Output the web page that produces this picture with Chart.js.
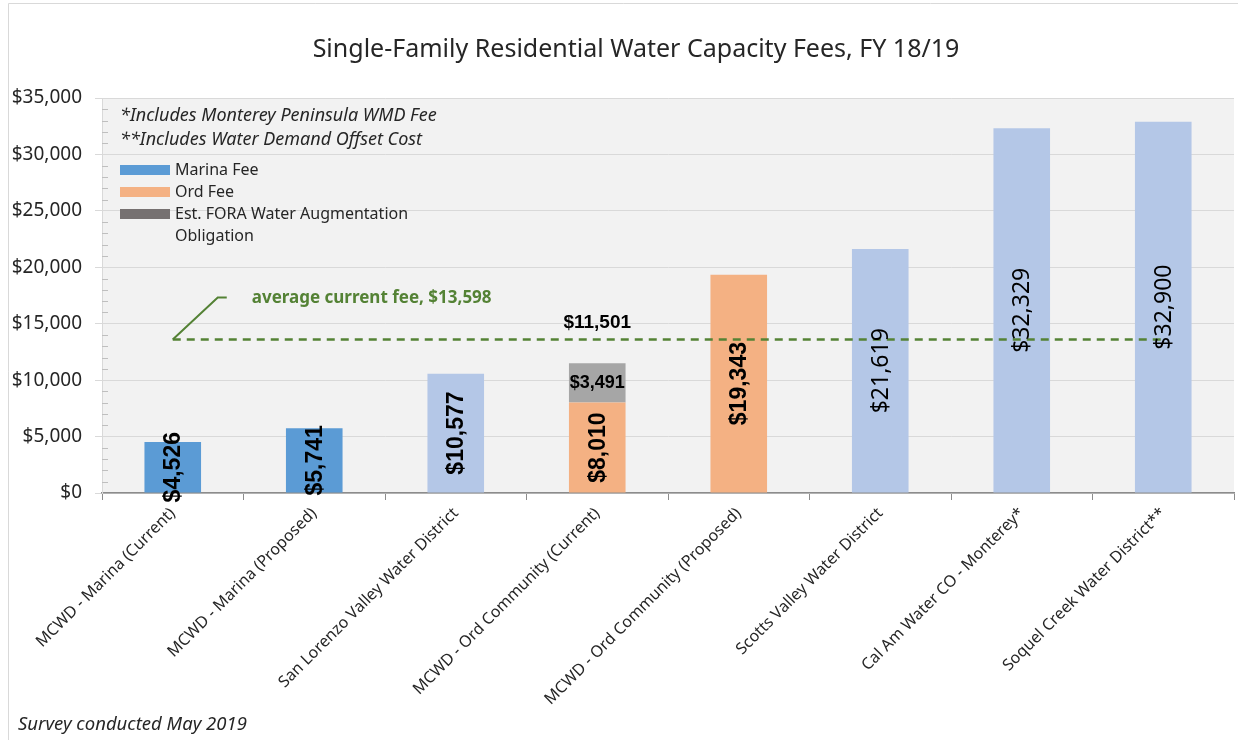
<!DOCTYPE html>
<html>
<head>
<meta charset="utf-8">
<title>Single-Family Residential Water Capacity Fees, FY 18/19</title>
<script src="https://cdn.jsdelivr.net/npm/chart.js@4.4.1/dist/chart.umd.min.js"></script>
<style>
  html, body { margin: 0; padding: 0; background: #fff; }
  #wrap { position: relative; width: 1238px; height: 740px; }
</style>
</head>
<body>
<div id="wrap"><canvas id="feeChart" width="1238" height="740"></canvas></div>
<script>
// Chart data
const categories = [
    'MCWD - Marina (Current)',
    'MCWD - Marina (Proposed)',
    'San Lorenzo Valley Water District',
    'MCWD - Ord Community (Current)',
    'MCWD - Ord Community (Proposed)',
    'Scotts Valley Water District',
    'Cal Am Water CO - Monterey*',
    'Soquel Creek Water District**'
];
const marinaFee      = [4526, 5741, null, null, null, null, null, null];
const ordFee         = [null, null, null, 8010, 19343, null, null, null];
const foraObligation = [null, null, null, 3491, null, null, null, null];
const otherDistricts = [null, null, 10577, null, null, 21619, 32329, 32900];
const averageFee     = [13598, 13598, 13598, 13598, 13598, 13598, 13598, 13598];

const seriesNames = ['Marina Fee', 'Ord Fee', 'Est. FORA Water Augmentation', 'Other Districts'];
const legendLines = [['Marina Fee'], ['Ord Fee'], ['Est. FORA Water Augmentation', 'Obligation']];
const notes = ['*Includes Monterey Peninsula WMD Fee', '**Includes Water Demand Offset Cost'];
const averageLabel = 'average current fee, $13,598';
const chartTitle = 'Single-Family Residential Water Capacity Fees, FY 18/19';
const footnote = 'Survey conducted May 2019';
const yMax = 35000;
const yStep = 5000;
const yMinorStep = 1000;

const COLORS = {
    marina: '#5b9bd5',
    ord: '#f4b183',
    fora: '#a6a6a6',
    foraLegend: '#767171',
    other: '#b4c7e7',
    avg: '#548235',
    plotBg: '#f2f2f2',
    grid: '#d9d9d9',
    axis: '#8c8c8c',
    text: '#262626'
};
const FONT = "'Noto Sans', 'Open Sans', sans-serif";

function money(v) {
    return '$' + Number(v).toLocaleString('en-US');
}

// backgrounds, border, title, notes, legend, footnote
const decorPlugin = {
    id: 'decor',
    beforeDraw(chart) {
        const { ctx, chartArea: a, width, height } = chart;
        ctx.save();
        ctx.fillStyle = '#ffffff';
        ctx.fillRect(0, 0, width, height);
        ctx.strokeStyle = '#d9d9d9';
        ctx.lineWidth = 1;
        ctx.beginPath();
        ctx.moveTo(8.5, height);
        ctx.lineTo(8.5, 3.5);
        ctx.lineTo(width, 3.5);
        ctx.stroke();
        ctx.fillStyle = COLORS.plotBg;
        ctx.fillRect(a.left, a.top, a.right - a.left, a.bottom - a.top);
        ctx.restore();
    },
    afterDraw(chart) {
        const { ctx, chartArea: a, width, height } = chart;
        const y = chart.scales.y;
        ctx.save();

        // minor ticks inside the y axis
        ctx.strokeStyle = '#bfbfbf';
        ctx.lineWidth = 1;
        for (let v = yMinorStep; v < yMax; v += yMinorStep) {
            if (v % yStep === 0) continue;
            const py = Math.round(y.getPixelForValue(v)) + 0.5;
            ctx.beginPath();
            ctx.moveTo(a.left, py);
            ctx.lineTo(a.left + 6, py);
            ctx.stroke();
        }

        // title
        ctx.fillStyle = COLORS.text;
        ctx.font = `25px ${FONT}`;
        ctx.textAlign = 'center';
        ctx.textBaseline = 'middle';
        ctx.fillText(chartTitle, 636, 50);

        // notes
        ctx.textAlign = 'left';
        ctx.font = `italic 18px ${FONT}`;
        notes.forEach((n, i) => ctx.fillText(n, a.left + 18, a.top + 18 + i * 24));

        // legend
        const swatches = [COLORS.marina, COLORS.ord, COLORS.foraLegend];
        ctx.font = `16px ${FONT}`;
        let ly = a.top + 72;
        legendLines.forEach((lines, i) => {
            ctx.fillStyle = swatches[i];
            ctx.fillRect(a.left + 18, ly - 5, 50, 10);
            ctx.fillStyle = COLORS.text;
            lines.forEach((t, j) => ctx.fillText(t, a.left + 73, ly + j * 22));
            ly += 22;
        });

        // footnote
        ctx.font = `italic 18.5px ${FONT}`;
        ctx.fillText(footnote, 18, height - 15);
        ctx.restore();
    }
};

// value labels and the average annotation
const labelPlugin = {
    id: 'valueLabels',
    afterDatasetsDraw(chart) {
        const ctx = chart.ctx;
        const barSets = [1, 2, 3, 4];
        ctx.save();
        ctx.fillStyle = '#000';
        ctx.textBaseline = 'middle';

        categories.forEach((cat, i) => {
            const segs = [];
            barSets.forEach(d => {
                const v = chart.data.datasets[d].data[i];
                if (v != null) segs.push({ v, el: chart.getDatasetMeta(d).data[i] });
            });
            const bold = i < 5;
            const vertFont = bold ? `bold 23px 'Liberation Sans', Arial, sans-serif` : `23px ${FONT}`;
            segs.forEach((s, k) => {
                const cx = s.el.x;
                const cy = (s.el.y + s.el.base) / 2;
                if (k === 0) {
                    ctx.save();
                    ctx.translate(cx, cy);
                    ctx.rotate(-Math.PI / 2);
                    ctx.font = vertFont;
                    ctx.textAlign = 'center';
                    ctx.fillText(money(s.v), 0, 1);
                    ctx.restore();
                } else {
                    ctx.font = `bold 18px 'Liberation Sans', Arial, sans-serif`;
                    ctx.textAlign = 'center';
                    ctx.fillText(money(s.v), cx, cy);
                }
            });
            if (segs.length > 1) {
                const top = segs[segs.length - 1].el;
                const total = segs.reduce((t, s) => t + s.v, 0);
                ctx.font = `bold 19px 'Liberation Sans', Arial, sans-serif`;
                ctx.textAlign = 'center';
                ctx.fillText(money(total), top.x, top.y - 40);
            }
        });

        // average annotation with leader line
        const p0 = chart.getDatasetMeta(0).data[0];
        ctx.strokeStyle = COLORS.avg;
        ctx.lineWidth = 2;
        ctx.beginPath();
        ctx.moveTo(p0.x, p0.y);
        ctx.lineTo(p0.x + 45, p0.y - 42);
        ctx.lineTo(p0.x + 54, p0.y - 42);
        ctx.stroke();
        ctx.fillStyle = COLORS.avg;
        ctx.font = `bold 17px ${FONT}`;
        ctx.textAlign = 'left';
        ctx.fillText(averageLabel, p0.x + 79, p0.y - 41);
        ctx.restore();
    }
};

const barCommon = { barPercentage: 0.4, categoryPercentage: 1, borderWidth: 0 };

new Chart(document.getElementById('feeChart'), {
    type: 'bar',
    data: {
        labels: categories,
        datasets: [
            {
                type: 'line',
                label: 'Average current fee',
                data: averageFee,
                borderColor: COLORS.avg,
                borderWidth: 2.5,
                borderDash: [8, 6],
                pointRadius: 0,
                fill: false
            },
            { label: seriesNames[0], data: marinaFee, backgroundColor: COLORS.marina, ...barCommon },
            { label: seriesNames[1], data: ordFee, backgroundColor: COLORS.ord, ...barCommon },
            { label: seriesNames[2], data: foraObligation, backgroundColor: COLORS.fora, ...barCommon },
            { label: seriesNames[3], data: otherDistricts, backgroundColor: COLORS.other, ...barCommon }
        ]
    },
    options: {
        responsive: false,
        animation: false,
        devicePixelRatio: 1,
        layout: { padding: { top: 98, left: 0, right: 4, bottom: 0 } },
        plugins: {
            legend: { display: false },
            title: { display: false },
            tooltip: { enabled: false }
        },
        scales: {
            x: {
                stacked: true,
                grid: {
                    offset: true,
                    drawOnChartArea: false,
                    drawTicks: true,
                    tickLength: 7,
                    color: COLORS.axis
                },
                border: { color: COLORS.axis, width: 1.5 },
                ticks: {
                    autoSkip: false,
                    minRotation: 45,
                    maxRotation: 45,
                    padding: 4,
                    color: COLORS.text,
                    font: { family: FONT, size: 16 }
                },
                afterFit(scale) {
                    scale.height = 247;
                    scale.paddingLeft = 0;
                    scale.paddingRight = 0;
                }
            },
            y: {
                stacked: true,
                min: 0,
                max: yMax,
                grid: {
                    color: COLORS.grid,
                    tickLength: 7,
                    drawTicks: true
                },
                border: { color: COLORS.grid },
                ticks: {
                    stepSize: yStep,
                    padding: 13,
                    color: COLORS.text,
                    font: { family: FONT, size: 19 },
                    callback: v => money(v)
                },
                afterFit(scale) {
                    scale.width = 102;
                    scale.paddingTop = 0;
                    scale.paddingBottom = 0;
                }
            }
        }
    },
    plugins: [decorPlugin, labelPlugin]
});
</script>
</body>
</html>
